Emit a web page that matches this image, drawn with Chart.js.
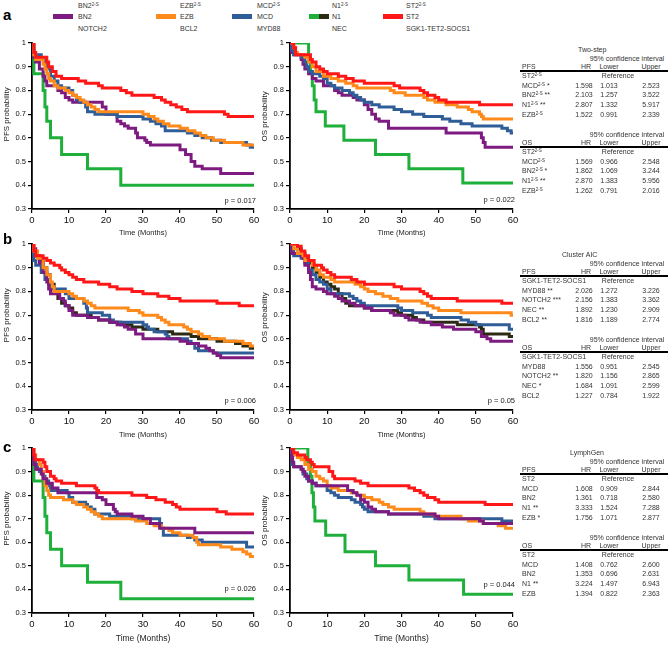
<!DOCTYPE html>
<html>
<head>
<meta charset="utf-8">
<script src="https://cdn.jsdelivr.net/npm/chart.js@4.4.1/dist/chart.umd.min.js"></script>
<style>
  body { margin: 0; background: #fff; font-family: "Liberation Sans", Arial, sans-serif; }
  #fig { position: relative; width: 668px; height: 647px; overflow: hidden; }
  #fig canvas { position: absolute; }
  .t { position: absolute; white-space: nowrap; color: #333; font-size: 7px; line-height: 9px; }
  .t sup { font-size: 4.5px; vertical-align: 2.5px; line-height: 0; }
  .lbl { position: absolute; font-weight: bold; font-size: 15px; color: #000; line-height: 16px; }
  .sw { position: absolute; height: 5px; width: 20px; }
  .hl { position: absolute; height: 1.5px; background: #000; left: 520px; width: 148px; }
</style>
</head>
<body>
<div id="fig"></div>
<script>
// ---- Kaplan-Meier curves: [time (months), survival] ----
// a: two-step classification
const aPfsST2 = [[0,1],[0.5,0.96],[1,0.94],[4,0.92],[4.5,0.9],[5.5,0.88],[6.5,0.86],[8,0.85],[12.5,0.84],[14.5,0.83],[18,0.82],[19,0.81],[24,0.8],[25.5,0.79],[27,0.78],[33,0.77],[35,0.76],[36,0.75],[37.5,0.74],[39,0.73],[40.5,0.72],[42,0.71],[52,0.7],[53,0.69],[60,0.69]];
const aPfsEZB = [[0,1],[0.5,0.95],[1,0.93],[3,0.91],[3.5,0.89],[4,0.87],[4.5,0.85],[5,0.84],[6,0.82],[7,0.81],[9,0.8],[10,0.79],[11,0.78],[12,0.77],[13,0.76],[14,0.75],[15,0.74],[16,0.73],[17,0.72],[18,0.71],[30,0.7],[31.5,0.69],[33,0.68],[34,0.67],[35.5,0.66],[37,0.65],[40,0.64],[42,0.63],[44,0.62],[45.5,0.61],[47,0.6],[49,0.59],[52,0.58],[57,0.57],[60,0.57]];
const aPfsMCD = [[0,1],[0.5,0.95],[2.5,0.93],[3.5,0.91],[4,0.89],[5,0.86],[6,0.84],[7,0.82],[8,0.81],[10,0.8],[11,0.78],[12,0.76],[13,0.75],[14.5,0.73],[15,0.71],[17,0.7],[23,0.69],[30,0.68],[32,0.67],[33.5,0.66],[35,0.65],[36,0.63],[42,0.62],[44,0.61],[46,0.6],[48.5,0.59],[51,0.58],[58,0.57],[59,0.56],[60,0.56]];
const aPfsBN2 = [[0,1],[0.2,0.97],[0.5,0.94],[1,0.92],[2,0.89],[3,0.86],[3.5,0.84],[4,0.82],[7,0.8],[8,0.79],[9,0.77],[10,0.76],[11,0.75],[19,0.73],[20,0.7],[23,0.67],[24,0.66],[25,0.65],[26,0.64],[28,0.62],[28.5,0.6],[30.5,0.59],[31,0.58],[32,0.57],[40,0.55],[41.5,0.53],[43,0.5],[44,0.48],[46,0.47],[51,0.45],[60,0.45]];
const aPfsN1 = [[0,1],[0.5,0.87],[3,0.8],[3.5,0.73],[4,0.67],[5,0.6],[8,0.53],[15,0.47],[24,0.4],[60,0.4]];

const aOsST2 = [[0,1],[1,0.98],[1.5,0.95],[5.5,0.93],[6,0.92],[7,0.9],[8,0.89],[9,0.88],[10,0.87],[13,0.86],[15,0.85],[17,0.84],[20,0.83],[28,0.82],[29.5,0.81],[35,0.8],[36,0.79],[37,0.78],[39,0.77],[40,0.76],[42,0.75],[51,0.74],[60,0.74]];
const aOsEZB = [[0,1],[1,0.98],[1.5,0.96],[2,0.95],[4,0.94],[5,0.92],[6,0.9],[7,0.88],[9,0.86],[11,0.85],[13,0.84],[15,0.83],[17,0.82],[18,0.81],[27,0.8],[28,0.79],[31,0.78],[36,0.77],[37,0.76],[39,0.75],[42,0.74],[45,0.73],[48,0.72],[49,0.71],[51,0.7],[51.5,0.69],[52,0.68],[60,0.68]];
const aOsMCD = [[0,1],[0.5,0.97],[1,0.95],[3,0.94],[4,0.92],[4.5,0.9],[5,0.88],[6,0.87],[8,0.86],[9,0.85],[10,0.83],[11,0.82],[12,0.81],[14,0.8],[16,0.79],[17,0.78],[18,0.77],[19,0.76],[20,0.75],[22,0.74],[24,0.73],[28,0.72],[30,0.71],[33,0.7],[36,0.69],[41,0.68],[43,0.67],[46,0.66],[49,0.65],[57,0.64],[58.5,0.63],[59.5,0.62],[60,0.62]];
const aOsBN2 = [[0,1],[0.3,0.96],[1,0.95],[3,0.93],[3.5,0.91],[4,0.89],[5,0.87],[6,0.85],[7,0.84],[9,0.82],[12,0.8],[13,0.79],[14,0.78],[17,0.77],[18,0.76],[20,0.74],[21,0.72],[22,0.7],[23,0.68],[24,0.67],[26.5,0.64],[42,0.62],[51.5,0.6],[52,0.58],[52.5,0.56],[60,0.56]];
const aOsN1 = [[0,1],[5,0.94],[5.5,0.88],[6,0.82],[6.5,0.76],[7,0.71],[9.5,0.65],[14.5,0.59],[23,0.53],[32,0.47],[46.5,0.41],[60,0.41]];

// b: cluster AIC
const bPfsSGK = [[0,1],[0.5,0.97],[1,0.95],[3,0.94],[4,0.93],[5,0.92],[6,0.91],[7.5,0.9],[8,0.89],[9,0.88],[10,0.87],[11,0.86],[12,0.85],[14,0.84],[18,0.83],[21,0.82],[23,0.81],[27,0.8],[30,0.79],[34,0.78],[37,0.77],[40,0.76],[50,0.75],[56,0.74],[60,0.74]];
const bPfsBCL2 = [[0,1],[0.5,0.97],[1.5,0.94],[3,0.9],[4,0.87],[5,0.84],[5.5,0.82],[6,0.8],[10,0.79],[11,0.78],[12,0.77],[14,0.76],[15,0.75],[16,0.74],[17,0.73],[26,0.72],[29,0.71],[30,0.7],[34,0.69],[35,0.68],[36,0.67],[37,0.66],[41,0.65],[42,0.64],[43,0.63],[45,0.62],[46,0.61],[48,0.6],[52,0.59],[57,0.58],[59,0.57],[60,0.57]];
const bPfsMYD = [[0,1],[0.2,0.96],[0.5,0.93],[1,0.91],[2.5,0.88],[3.5,0.85],[4.5,0.83],[5,0.81],[9,0.79],[10,0.77],[14,0.75],[14.7,0.73],[15,0.71],[19,0.7],[21,0.68],[22,0.67],[30,0.66],[31,0.65],[31.5,0.64],[33,0.63],[36,0.62],[36.5,0.61],[37,0.6],[42,0.59],[43,0.58],[44,0.56],[45,0.55],[49,0.54],[60,0.54]];
const bPfsNEC = [[0,1],[0.3,0.97],[1,0.95],[2,0.93],[3,0.9],[4,0.87],[5,0.83],[6,0.8],[7,0.77],[8,0.75],[9,0.74],[10,0.73],[11,0.71],[12,0.7],[16,0.69],[18,0.68],[21,0.67],[24,0.66],[27,0.65],[30,0.64],[34,0.63],[38,0.62],[43,0.61],[45,0.6],[50,0.59],[55,0.58],[57,0.57],[59,0.56],[60,0.56]];
const bPfsNOTCH = [[0,1],[0.5,0.98],[1,0.95],[2,0.92],[3,0.88],[4,0.84],[4.5,0.81],[5,0.79],[7.5,0.77],[8.5,0.76],[9,0.74],[10,0.72],[11,0.7],[15,0.69],[18,0.68],[21,0.67],[23,0.66],[25,0.65],[26,0.64],[28,0.62],[30,0.6],[40,0.59],[42,0.58],[45,0.57],[47,0.56],[48,0.55],[49,0.54],[50,0.53],[51,0.52],[60,0.52]];

const bOsSGK = [[0,1],[2,0.99],[3,0.97],[4,0.95],[5,0.93],[6.5,0.91],[8.5,0.9],[9,0.89],[10,0.88],[11,0.87],[12,0.86],[16.5,0.85],[18,0.84],[20,0.83],[28,0.82],[30,0.81],[35,0.8],[36,0.79],[37,0.78],[38,0.77],[45,0.76],[57,0.75],[60,0.75]];
const bOsBCL2 = [[0,1],[1,0.98],[2,0.96],[3.5,0.95],[4,0.93],[6,0.91],[7,0.89],[8,0.87],[9,0.86],[11,0.85],[12,0.84],[17.5,0.83],[19,0.82],[20,0.81],[21,0.8],[23,0.79],[25,0.78],[27,0.77],[29,0.76],[35.5,0.75],[37,0.74],[38.5,0.73],[40,0.72],[46,0.71],[59.5,0.7],[60,0.7]];
const bOsMYD = [[0,1],[0.3,0.97],[1,0.95],[3,0.94],[4,0.92],[5,0.89],[6,0.87],[7,0.85],[8,0.84],[9,0.83],[10,0.81],[11,0.79],[16,0.78],[17,0.77],[18,0.76],[19,0.75],[20,0.74],[29,0.73],[30,0.72],[33,0.71],[37,0.7],[38,0.69],[46,0.68],[48,0.67],[50,0.66],[59,0.64],[60,0.64]];
const bOsNEC = [[0,1],[2,0.98],[3,0.96],[4,0.94],[5,0.92],[6,0.9],[7,0.88],[8,0.86],[9,0.84],[10,0.83],[11,0.82],[12,0.81],[13,0.79],[14,0.77],[15,0.75],[16,0.74],[20,0.73],[22,0.72],[29,0.71],[30,0.7],[33,0.69],[34,0.68],[36,0.67],[45,0.66],[51,0.65],[51.5,0.64],[52,0.62],[59,0.61],[60,0.61]];
const bOsNOTCH = [[0,1],[0.5,0.96],[3,0.95],[3.5,0.94],[4,0.91],[5,0.88],[5.5,0.85],[6,0.82],[7,0.81],[9,0.8],[10,0.79],[12,0.78],[13,0.77],[14,0.76],[16,0.75],[17.5,0.74],[20,0.73],[22,0.72],[27,0.71],[28,0.7],[31,0.69],[32,0.68],[35,0.67],[38,0.66],[41,0.65],[44,0.64],[50,0.63],[51.5,0.61],[53,0.6],[54,0.59],[60,0.59]];

// c: LymphGen
const cPfsST2 = [[0,1],[0.5,0.97],[0.8,0.95],[3,0.94],[3.5,0.92],[4,0.9],[5,0.88],[6,0.87],[6.5,0.86],[8,0.85],[12,0.84],[17,0.83],[17.5,0.82],[18,0.81],[27,0.8],[31,0.79],[33.5,0.78],[36,0.77],[38,0.76],[39,0.75],[40,0.74],[50,0.73],[52.5,0.72],[60,0.72]];
const cPfsEZB = [[0,1],[0.5,0.97],[1,0.95],[2,0.93],[2.5,0.9],[3,0.87],[3.5,0.84],[4,0.82],[4.5,0.8],[5,0.79],[8.5,0.78],[11,0.77],[12,0.76],[14,0.75],[15,0.74],[16,0.73],[17,0.72],[18,0.71],[19,0.7],[28,0.69],[31,0.68],[33,0.67],[35,0.66],[37,0.65],[38,0.64],[40,0.63],[43.5,0.62],[44.5,0.6],[45,0.59],[51,0.58],[54,0.57],[57,0.56],[58,0.55],[59,0.54],[60,0.54]];
const cPfsMCD = [[0,1],[0.3,0.95],[1,0.93],[1.5,0.91],[2,0.9],[3,0.88],[3.5,0.86],[4.5,0.84],[5,0.82],[9.5,0.81],[10,0.79],[11,0.77],[14.5,0.76],[15,0.75],[16,0.74],[17,0.72],[21,0.71],[27,0.7],[34.5,0.68],[35,0.66],[35.5,0.63],[42,0.62],[44,0.61],[46,0.6],[58,0.58],[60,0.58]];
const cPfsBN2 = [[0,1],[0.3,0.95],[0.5,0.93],[1,0.91],[2.5,0.89],[3,0.87],[4,0.85],[5.5,0.83],[7,0.81],[17.5,0.79],[19,0.78],[20,0.76],[22,0.74],[22.5,0.73],[23,0.72],[27,0.71],[30,0.7],[32,0.68],[34.5,0.66],[44,0.64],[60,0.64]];
const cPfsN1 = [[0,1],[0.5,0.86],[3,0.79],[3.5,0.71],[4,0.64],[5,0.57],[8,0.5],[15,0.43],[24,0.36],[60,0.36]];

const cOsST2 = [[0,1],[1,0.98],[2,0.97],[4,0.96],[4.5,0.95],[5.5,0.94],[6,0.93],[6.5,0.92],[10.5,0.9],[11.5,0.88],[12,0.87],[17.5,0.86],[19,0.85],[21,0.84],[32,0.83],[33.5,0.82],[35,0.81],[36,0.8],[37,0.79],[39,0.78],[40,0.77],[52.5,0.76],[60,0.76]];
const cOsEZB = [[0,1],[0.5,0.98],[1,0.97],[2,0.96],[3,0.95],[4,0.93],[5,0.91],[6,0.9],[7,0.88],[8,0.87],[9,0.86],[10,0.84],[11,0.83],[13,0.82],[16.5,0.81],[18,0.8],[20,0.79],[22,0.78],[24,0.77],[25,0.76],[26.5,0.75],[28,0.74],[35,0.73],[36,0.72],[39,0.71],[46,0.7],[48,0.69],[52,0.68],[56,0.67],[58,0.66],[60,0.66]];
const cOsMCD = [[0,1],[0.3,0.96],[0.5,0.93],[1,0.92],[3,0.91],[3.5,0.89],[4.5,0.87],[5,0.86],[6,0.85],[7,0.84],[10,0.82],[11,0.81],[12,0.8],[13,0.79],[16.5,0.78],[17.5,0.77],[19,0.76],[19.5,0.75],[20,0.74],[21,0.73],[26.5,0.72],[36,0.71],[39,0.7],[57,0.69],[60,0.69]];
const cOsBN2 = [[0,1],[0.5,0.96],[0.7,0.94],[1,0.92],[3,0.91],[3.5,0.9],[4,0.88],[5,0.86],[6,0.85],[7,0.84],[15.5,0.82],[17,0.81],[18,0.8],[19,0.78],[20,0.77],[21,0.75],[22,0.74],[23,0.73],[26.5,0.72],[39,0.71],[40,0.7],[51,0.69],[52,0.68],[60,0.68]];
const cOsN1 = [[0,1],[4.8,0.94],[5.5,0.88],[5.9,0.81],[6.3,0.75],[6.7,0.69],[9.6,0.63],[14.8,0.56],[23,0.5],[32,0.44],[46.7,0.38],[60,0.38]];

// ---- axis ticks / labels ----
const xTicks = [0, 10, 20, 30, 40, 50, 60];
const yMin = 0.3, yMax = 1;

// ---- hazard ratio tables: label, HR, lower, upper ----
const tabAPfs = [['MCD<sup>2-S</sup> *','1.598','1.013','2.523'],['BN2<sup>2-S</sup> **','2.103','1.257','3.522'],['N1<sup>2-S</sup> **','2.807','1.332','5.917'],['EZB<sup>2-S</sup>','1.522','0.991','2.339']];
const tabAOs = [['MCD<sup>2-S</sup>','1.569','0.966','2.548'],['BN2<sup>2-S</sup> *','1.862','1.069','3.244'],['N1<sup>2-S</sup> **','2.870','1.383','5.956'],['EZB<sup>2-S</sup>','1.262','0.791','2.016']];
const tabBPfs = [['MYD88 **','2.026','1.272','3.226'],['NOTCH2 ***','2.156','1.383','3.362'],['NEC **','1.892','1.230','2.909'],['BCL2 **','1.816','1.189','2.774']];
const tabBOs = [['MYD88','1.556','0.951','2.545'],['NOTCH2 **','1.820','1.156','2.865'],['NEC *','1.684','1.091','2.599'],['BCL2','1.227','0.784','1.922']];
const tabCPfs = [['MCD','1.608','0.909','2.844'],['BN2','1.361','0.718','2.580'],['N1 **','3.333','1.524','7.288'],['EZB *','1.756','1.071','2.877']];
const tabCOs = [['MCD','1.408','0.762','2.600'],['BN2','1.353','0.696','2.631'],['N1 **','3.224','1.497','6.943'],['EZB','1.394','0.822','2.363']];

const legTop = ['BN2<sup>2-S</sup>','EZB<sup>2-S</sup>','MCD<sup>2-S</sup>','N1<sup>2-S</sup>','ST2<sup>2-S</sup>'];
const legMid = ['BN2','EZB','MCD','N1','ST2'];
const legBot = ['NOTCH2','BCL2','MYD88','NEC','SGK1-TET2-SOCS1'];

const COL = { purple: '#7e1b81', orange: '#ff8a1c', blue: '#2f5d98', green: '#1eb03a', dark: '#2c2a12', red: '#ff1717' };

const fig = document.getElementById('fig');

function put(html, x, y, align, css) {
  const d = document.createElement('div');
  d.className = 't';
  d.innerHTML = html;
  d.style.left = x + 'px';
  d.style.top = (y - 4.5) + 'px';
  if (align === 'center') d.style.transform = 'translateX(-50%)';
  if (css) Object.assign(d.style, css);
  fig.appendChild(d);
}

// text drawn on top of each panel: p value, rotated y title, x title
const panelText = {
  id: 'panelText',
  afterDraw(chart, args, o) {
    const { ctx, scales: { x, y } } = chart;
    ctx.save();
    ctx.fillStyle = '#222';
    ctx.textBaseline = 'middle';
    ctx.font = '7.5px "Liberation Sans", Arial';
    ctx.textAlign = 'right';
    ctx.fillText(o.p, x.getPixelForValue(60) + 2, y.getPixelForValue(o.pY));
    ctx.textAlign = 'center';
    ctx.font = o.xSize + 'px "Liberation Sans", Arial';
    ctx.fillText('Time (Months)', (x.left + x.right) / 2, y.bottom + o.xGap);
    ctx.translate(7, y.getPixelForValue(0.585));
    ctx.rotate(-Math.PI / 2);
    ctx.textAlign = 'left';
    ctx.font = '8px "Liberation Sans", Arial';
    ctx.fillText(o.yTitle, 0, 0);
    ctx.restore();
  }
};

function panel(p) {
  const cl = p.l - 32, ct = p.t - 10;
  const cv = document.createElement('canvas');
  cv.width = p.r - cl + 8;
  cv.height = p.b - ct + 30;
  cv.style.left = cl + 'px';
  cv.style.top = ct + 'px';
  fig.appendChild(cv);
  const axisGrid = { drawOnChartArea: false, drawTicks: true, tickLength: 4, color: '#000', lineWidth: 1.2 };
  new Chart(cv.getContext('2d'), {
    type: 'line',
    data: {
      datasets: p.sets.map(([d, c]) => ({
        data: d.map(([t, s]) => ({ x: t, y: s })),
        borderColor: c,
        borderWidth: 3,
        stepped: 'before',
        pointRadius: 0,
        fill: false
      }))
    },
    options: {
      responsive: false,
      animation: false,
      devicePixelRatio: 1,
      events: [],
      layout: { padding: { top: 10, right: 8, left: 0, bottom: 0 } },
      plugins: {
        legend: { display: false },
        tooltip: { enabled: false },
        panelText: { p: p.p, pY: p.pY, yTitle: p.y, xSize: p.xs, xGap: p.xg }
      },
      scales: {
        x: {
          type: 'linear', min: 0, max: 60,
          afterBuildTicks: s => { s.ticks = xTicks.map(v => ({ value: v })); },
          afterFit: s => { s.height = 30; },
          grid: axisGrid,
          border: { color: '#000', width: 1.8 },
          ticks: { color: '#111', padding: 2, font: { size: 9.5, family: '"Liberation Sans", Arial' }, maxRotation: 0 }
        },
        y: {
          type: 'linear', min: yMin, max: yMax,
          afterFit: s => { s.width = 32; },
          grid: axisGrid,
          border: { color: '#000', width: 1.8 },
          ticks: {
            stepSize: 0.1, color: '#111', padding: 2,
            font: { size: 7.5, family: '"Liberation Sans", Arial' },
            callback: v => String(Math.round(v * 10) / 10)
          }
        }
      }
    },
    plugins: [panelText]
  });
}

const panels = [
  { l: 32, t: 43, r: 254, b: 209, y: 'PFS probability', p: 'p = 0.017', pY: 0.335, xs: 7.5, xg: 24,
    sets: [[aPfsST2, COL.red], [aPfsEZB, COL.orange], [aPfsMCD, COL.blue], [aPfsBN2, COL.purple], [aPfsN1, COL.green]] },
  { l: 290, t: 43, r: 513, b: 209, y: 'OS probability', p: 'p = 0.022', pY: 0.34, xs: 7.5, xg: 24,
    sets: [[aOsST2, COL.red], [aOsEZB, COL.orange], [aOsMCD, COL.blue], [aOsBN2, COL.purple], [aOsN1, COL.green]] },
  { l: 32, t: 244, r: 254, b: 410, y: 'PFS probability', p: 'p = 0.006', pY: 0.338, xs: 7.5, xg: 25,
    sets: [[bPfsSGK, COL.red], [bPfsBCL2, COL.orange], [bPfsNOTCH, COL.purple], [bPfsMYD, COL.blue], [bPfsNEC, COL.dark]] },
  { l: 290, t: 244, r: 513, b: 410, y: 'OS probability', p: 'p = 0.05', pY: 0.34, xs: 7.5, xg: 25,
    sets: [[bOsSGK, COL.red], [bOsBCL2, COL.orange], [bOsNOTCH, COL.purple], [bOsMYD, COL.blue], [bOsNEC, COL.dark]] },
  { l: 32, t: 448, r: 254, b: 613, y: 'PFS probability', p: 'p = 0.026', pY: 0.4, xs: 8.5, xg: 26,
    sets: [[cPfsST2, COL.red], [cPfsBN2, COL.purple], [cPfsEZB, COL.orange], [cPfsMCD, COL.blue], [cPfsN1, COL.green]] },
  { l: 290, t: 448, r: 513, b: 613, y: 'OS probability', p: 'p = 0.044', pY: 0.42, xs: 8.5, xg: 26,
    sets: [[cOsST2, COL.red], [cOsBN2, COL.purple], [cOsEZB, COL.orange], [cOsMCD, COL.blue], [cOsN1, COL.green]] }
];
panels.forEach(panel);

// ---- legend ----
const legText = [78, 180, 257, 332, 406];
const legSw = [53, 156, 232, 309, 383];
const legCol = [COL.purple, COL.orange, COL.blue, 'linear-gradient(90deg,' + COL.green + ' 50%,' + COL.dark + ' 50%)', COL.red];
legMid.forEach((s, i) => {
  put(legTop[i], legText[i], 5);
  put(s, legText[i], 16);
  put(legBot[i], legText[i], 28);
  const sw = document.createElement('div');
  sw.className = 'sw';
  sw.style.left = legSw[i] + 'px';
  sw.style.top = '14px';
  sw.style.background = legCol[i];
  fig.appendChild(sw);
});

// panel letters
[['a', 7], ['b', 231], ['c', 439]].forEach(([s, y]) => {
  const d = document.createElement('div');
  d.className = 'lbl';
  d.textContent = s;
  d.style.left = '3px';
  d.style.top = y + 'px';
  fig.appendChild(d);
});

// ---- tables ----
function block(y0, name, ref, rows) {
  put('95% confidence interval', 627, y0, 'center');
  put(name, 522, y0 + 8);
  put('HR', 586, y0 + 8, 'center');
  put('Lower', 609, y0 + 8, 'center');
  put('Upper', 651, y0 + 8, 'center');
  const hl = document.createElement('div');
  hl.className = 'hl';
  hl.style.top = (y0 + 12) + 'px';
  fig.appendChild(hl);
  put(ref, 522, y0 + 17);
  put('Reference', 618, y0 + 17, 'center');
  rows.forEach((r, i) => {
    const y = y0 + 27 + i * 9.8;
    put(r[0], 522, y);
    put(r[1], 584, y, 'center');
    put(r[2], 609, y, 'center');
    put(r[3], 651, y, 'center');
  });
}
function table(top, title, titleX, ref, pfs, os) {
  put(title, titleX, top);
  block(top + 9, 'PFS', ref, pfs);
  block(top + 85, 'OS', ref, os);
}
table(49, 'Two-step', 578, 'ST2<sup>2-S</sup>', tabAPfs, tabAOs);
table(254, 'Cluster AIC', 562, 'SGK1-TET2-SOCS1', tabBPfs, tabBOs);
table(452, 'LymphGen', 570, 'ST2', tabCPfs, tabCOs);
</script>
</body>
</html>
